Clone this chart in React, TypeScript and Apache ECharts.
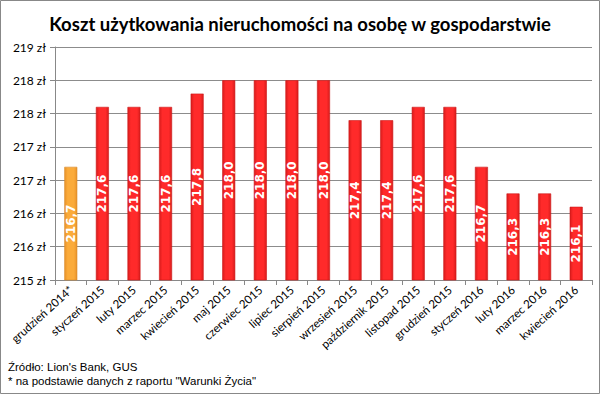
import React, { useEffect, useRef } from "react";
import * as echarts from "echarts";

const categories = [
  "grudzień 2014*", "styczeń 2015", "luty 2015", "marzec 2015", "kwiecień 2015",
  "maj 2015", "czerwiec 2015", "lipiec 2015", "sierpień 2015", "wrzesień 2015",
  "październik 2015", "listopad 2015", "grudzień 2015", "styczeń 2016",
  "luty 2016", "marzec 2016", "kwiecień 2016",
];
const values = [216.7, 217.6, 217.6, 217.6, 217.8, 218.0, 218.0, 218.0, 218.0, 217.4, 217.4, 217.6, 217.6, 216.7, 216.3, 216.3, 216.1];
const highlightIndex = [0];
const titleText = "Koszt użytkowania nieruchomości na osobę w gospodarstwie";
const sourceLines = ["Źródło: Lion's Bank, GUS", "* na podstawie danych z raportu \"Warunki Życia\""];

const grad = (edge: string, mid: string) =>
  new echarts.graphic.LinearGradient(0, 0, 1, 0, [
    { offset: 0, color: edge },
    { offset: 0.25, color: mid },
    { offset: 0.75, color: mid },
    { offset: 1, color: edge },
  ]);

export default function App() {
  const ref = useRef<HTMLDivElement>(null);
  useEffect(() => {
    document.body.style.margin = "0";
    const chart = echarts.init(ref.current!, null, { renderer: "svg" });
    const font = "Lato, 'Noto Sans', sans-serif";
    chart.setOption({
      animation: false,
      backgroundColor: "#fff",
      title: {
        text: titleText,
        left: "center",
        top: 9,
        textStyle: { fontFamily: font, fontSize: 18.5, fontWeight: "bold", color: "#000" },
      },
      grid: { left: 55, right: 8, top: 47, bottom: 114 },
      xAxis: {
        type: "category",
        data: categories,
        axisLine: { lineStyle: { color: "#888" } },
        axisTick: { show: true, length: 5, lineStyle: { color: "#888" } },
        axisLabel: { rotate: 42, fontFamily: font, fontSize: 11.5, color: "#000", margin: 8, interval: 0 },
      },
      yAxis: {
        type: "value",
        min: 215,
        max: 218.5,
        interval: 0.5,
        axisLine: { show: true, lineStyle: { color: "#888" } },
        axisTick: { show: true, length: 5, lineStyle: { color: "#888" } },
        splitLine: { lineStyle: { color: "#8c8c8c" } },
        axisLabel: {
          fontFamily: font,
          fontSize: 12,
          color: "#000",
          margin: 9,
          formatter: (v: number) => Math.round(v) + " zł",
        },
      },
      series: [
        {
          type: "bar",
          barWidth: 13,
          data: values.map((v, i) => ({
            value: v,
            itemStyle: highlightIndex.includes(i)
              ? { color: grad("#e8922a", "#fbab3a"), borderColor: "#d9892a", borderWidth: 0.6 }
              : { color: grad("#d81c1c", "#ff2a2a"), borderColor: "#cc1a1a", borderWidth: 0.6 },
          })),
          label: {
            show: true,
            position: "inside",
            rotate: 90,
            color: "#fff",
            fontFamily: "'DejaVu Sans', sans-serif",
            fontWeight: "bold",
            fontSize: 12,
            formatter: (p: any) => p.value.toFixed(1).replace(".", ","),
          },
        },
      ],
      graphic: [
        {
          type: "rect",
          shape: { x: 0.5, y: 0.5, width: 599, height: 393 },
          style: { fill: "none", stroke: "#888", lineWidth: 1 },
        },
        {
          type: "text",
          left: 8,
          top: 361,
          style: { text: sourceLines[0], fontFamily: "'Liberation Sans', Arial, sans-serif", fontSize: 11.5, fill: "#000" },
        },
        {
          type: "text",
          left: 8,
          top: 375,
          style: { text: sourceLines[1], fontFamily: "'Liberation Sans', Arial, sans-serif", fontSize: 11.5, fill: "#000" },
        },
      ],
    });
    return () => chart.dispose();
  }, []);
  return <div ref={ref} style={{ width: 600, height: 394, position: "fixed", left: 0, top: 0 }} />;
}
